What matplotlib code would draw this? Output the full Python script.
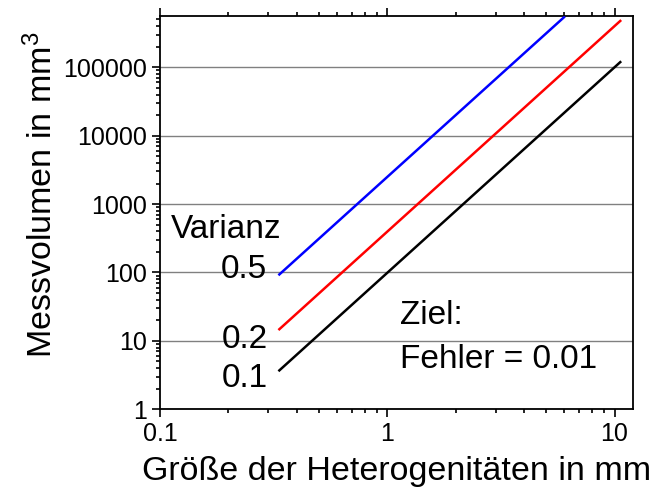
import matplotlib
matplotlib.use("Agg")
import matplotlib.pyplot as plt
from matplotlib.patches import Rectangle
from matplotlib.ticker import LogLocator, NullFormatter, FixedLocator, FixedFormatter

plt.rcParams['font.family'] = ['Liberation Sans', 'DejaVu Sans']
plt.rcParams['mathtext.default'] = 'regular'

# Measurement volume vs. heterogeneity size (log-log), one line per variance
varianz_labels = ["0.5", "0.2", "0.1"]
line_colors = ["#0000ff", "#ff0000", "#000000"]
groesse_mm = [[0.332, 6.05], [0.332, 10.7], [0.332, 10.7]]
messvolumen_mm3 = [[91, 554000], [14.4, 490000], [3.6, 122500]]

x_ticks = [0.1, 1, 10]
x_ticklabels = ["0.1", "1", "10"]
y_ticks = [1, 10, 100, 1000, 10000, 100000]
y_ticklabels = ["1", "10", "100", "1000", "10000", "100000"]

fig = plt.figure(figsize=(6.68, 4.91), dpi=100)
ax = fig.add_axes([0.2395, 0.1664, 0.7081, 0.801])
ax.set_xscale('log')
ax.set_yscale('log')
ax.set_xlim(0.1, 12.06)
ax.set_ylim(1, 562000)

ax.grid(True, axis='y', which='major', color='#808080', linewidth=1.0, zorder=0)
ax.grid(False, axis='x')

for xs, ys, c in zip(groesse_mm, messvolumen_mm3, line_colors):
    ax.plot(xs, ys, color=c, linewidth=1.8, zorder=3, solid_capstyle='butt')

ax.xaxis.set_major_locator(FixedLocator(x_ticks))
ax.xaxis.set_major_formatter(FixedFormatter(x_ticklabels))
ax.xaxis.set_minor_locator(LogLocator(base=10, subs=range(2, 10), numticks=20))
ax.xaxis.set_minor_formatter(NullFormatter())
ax.yaxis.set_major_locator(FixedLocator(y_ticks))
ax.yaxis.set_major_formatter(FixedFormatter(y_ticklabels))
ax.yaxis.set_minor_locator(LogLocator(base=10, subs=range(2, 10), numticks=20))
ax.yaxis.set_minor_formatter(NullFormatter())

ax.tick_params(axis='x', which='both', direction='out', top=True, bottom=True,
               labelsize=18, width=1.2, pad=3.5)
ax.tick_params(axis='y', which='both', direction='out', left=True, right=False,
               labelsize=18, width=1.2, pad=3.5)
ax.tick_params(which='major', length=6)
ax.tick_params(which='minor', length=3)
for s in ax.spines.values():
    s.set_linewidth(1.3)

ax.set_xlabel("Größe der Heterogenitäten in mm", fontsize=24.5, labelpad=6.5)
ax.set_ylabel(r"Messvolumen in mm$^{3}$", fontsize=24.5)
ax.yaxis.set_label_coords(-0.213, 0.546)

# variance labels next to the line starts
ax.text(0.1115, 316, "Varianz", fontsize=24, ha='left', va='baseline', zorder=4)
for lab, yv in zip(varianz_labels, [82, 7.8, 2.14]):
    ax.text(0.297, yv, lab, fontsize=24, ha='right', va='baseline', zorder=4)

# target note on a white patch that hides the grid behind it
ax.add_patch(Rectangle((1.0, 3.0), 9.75, 47, facecolor='white', edgecolor='none',
                       zorder=1))
ax.text(1.14, 17.5, "Ziel:", fontsize=24, ha='left', va='baseline', zorder=4)
ax.text(1.14, 4.06, "Fehler = 0.01", fontsize=24, ha='left', va='baseline', zorder=4)

fig.savefig("out.png", dpi=100)
